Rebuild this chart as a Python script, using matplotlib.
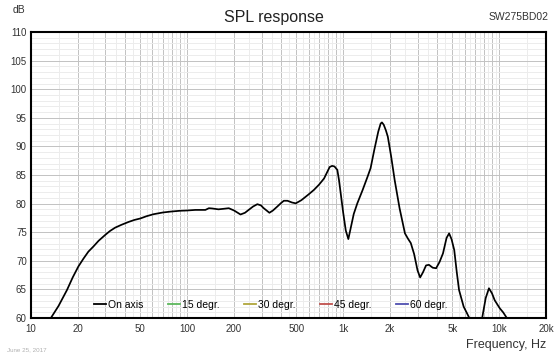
import numpy as np
import matplotlib
matplotlib.use("Agg")
import matplotlib.pyplot as plt
from matplotlib.lines import Line2D

plt.rcParams['font.family'] = ['Liberation Sans', 'DejaVu Sans']

# on-axis SPL
freq = [12.5, 13.4, 15, 17, 18.5, 20.1, 21.7, 23.3, 25.1, 27.1, 29.8, 32, 34.6, 38, 42.2, 46,
        50.1, 55, 61, 70, 78, 90, 100, 113, 131, 138, 145, 159, 172, 185, 200, 220, 235, 248,
        265, 282, 297, 310, 337, 355, 379, 400, 417, 440, 470, 497, 540, 600, 650, 700, 755,
        790, 820, 850, 880, 918, 940, 965, 1000, 1040, 1080, 1120, 1170, 1233, 1330, 1434,
        1500, 1584, 1680, 1740, 1773, 1820, 1880, 1934, 2030, 2140, 2300, 2490, 2600, 2715,
        2850, 3000, 3117, 3250, 3400, 3548, 3750, 3944, 4150, 4365, 4600, 4778, 4950, 5153,
        5350, 5532, 5919, 6442, 7000, 7500, 7780, 8200, 8600, 9000, 9365, 10090, 10600, 11200,
        12000]
spl = [58.3, 60.0, 62.1, 64.9, 67.1, 69.0, 70.4, 71.6, 72.5, 73.5, 74.5, 75.2, 75.8, 76.3, 76.8,
       77.15, 77.4, 77.8, 78.15, 78.45, 78.6, 78.75, 78.8, 78.9, 78.9, 79.2, 79.15, 79.0, 79.1,
       79.2, 78.8, 78.1, 78.4, 78.9, 79.5, 79.9, 79.7, 79.2, 78.4, 78.8, 79.5, 80.1, 80.5, 80.5,
       80.2, 80.05, 80.6, 81.6, 82.4, 83.3, 84.4, 85.5, 86.4, 86.6, 86.5, 85.9, 84.2, 81.8, 78.5,
       75.3, 73.8, 75.8, 78.2, 80.05, 82.3, 84.7, 86.2, 89.4, 92.6, 94.0, 94.2, 93.8, 92.8, 91.7,
       88.3, 84.1, 79.2, 74.8, 73.9, 73.1, 71.2, 68.3, 67.1, 68.0, 69.2, 69.3, 68.8, 68.7, 69.8,
       71.3, 74.0, 74.8, 73.8, 71.9, 68.0, 64.9, 62.0, 60.0, 55.0, 57.0, 60.0, 63.5, 65.2, 64.3,
       63.1, 61.7, 61.0, 60.0, 55.0]

series_names = ['On axis', '15 degr.', '30 degr.', '45 degr.', '60 degr.']
series_colors = ['black', '#5cb85c', '#b0a63c', '#c0504d', '#4f4fb0']

xticks = [10, 20, 50, 100, 200, 500, 1000, 2000, 5000, 10000, 20000]
xtick_labels = ['10', '20', '50', '100', '200', '500', '1k', '2k', '5k', '10k', '20k']

fig = plt.figure(figsize=(5.59, 3.56), dpi=100)
ax = fig.add_axes([0.0555, 0.1067, 0.9215, 0.8033])

# grid: 1-2-...-9 lines darker, half steps lighter
major_x = [m * d for d in (10, 100, 1000, 10000) for m in range(1, 10)] + [20000]
minor_x = [(m + 0.5) * d for d in (10, 100, 1000, 10000) for m in range(1, 10)] + [15000]
light, dark = '#ececec', '#c2c2c2'
for f in minor_x:
    ax.axvline(f, color=light, lw=0.7, zorder=0)
for f in major_x:
    ax.axvline(f, color=dark, lw=0.7, zorder=0)
for v in range(60, 111):
    ax.axhline(v, color=light if v % 5 else dark, lw=0.7, zorder=0)

ax.plot(freq, spl, color='black', lw=1.25, zorder=3)

ax.set_xscale('log')
ax.set_xlim(10, 20000)
ax.set_ylim(60, 110)
ax.set_xticks(xticks)
ax.set_xticklabels(xtick_labels)
ax.xaxis.set_minor_locator(matplotlib.ticker.NullLocator())
ax.set_yticks(range(60, 111, 5))
ax.tick_params(length=0, labelsize=7, colors='#333333', pad=4)
ax.tick_params(axis='y', pad=3)
for s in ax.spines.values():
    s.set_linewidth(1.5)
    s.set_color('black')

handles = [Line2D([0], [0], color=c, lw=1.3) for c in series_colors]
ax.legend(handles, series_names, loc='lower center', bbox_to_anchor=(0.465, -0.005),
          ncol=5, frameon=False, fontsize=7.5, handlelength=1.2, handletextpad=0.15,
          columnspacing=2.35)

fig.text(0.49, 0.952, 'SPL response', ha='center', va='center', fontsize=11.5, color='#222222')
fig.text(0.022, 0.972, 'dB', ha='left', va='center', fontsize=7.5, color='#333333')
fig.text(0.982, 0.952, 'SW275BD02', ha='right', va='center', fontsize=7.5, color='#333333')
fig.text(0.977, 0.03, 'Frequency, Hz', ha='right', va='center', fontsize=9, color='#333333')
fig.text(0.012, 0.018, 'June 25, 2017', ha='left', va='center', fontsize=4.5, color='#b0b0b0')

fig.savefig('out.png', dpi=100)
